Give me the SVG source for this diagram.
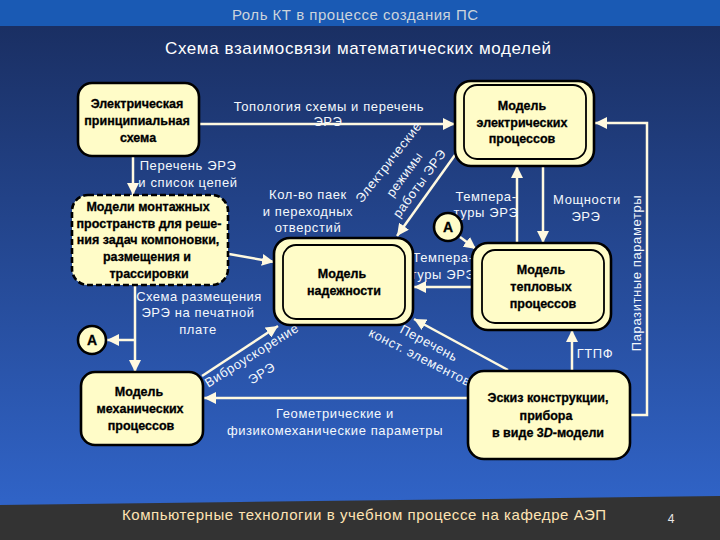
<svg xmlns="http://www.w3.org/2000/svg" width="720" height="540" viewBox="0 0 720 540">
<style>
text{font-family:"Liberation Sans",Arial,sans-serif}
.l{font-size:13px;fill:#f4f8fc;text-anchor:middle;letter-spacing:.6px}
.n{font-size:12.5px;font-weight:700;fill:#000;text-anchor:middle;stroke:#000;stroke-width:.3}
.box{fill:#fffcc8;stroke:#000;stroke-width:2.6}
.in{fill:none;stroke:#000;stroke-width:1.8}
.c{fill:none;stroke:#fff9e0;stroke-width:2.5}
</style>
<defs>
<linearGradient id="bg" gradientUnits="userSpaceOnUse" x1="0" y1="26" x2="0" y2="500"><stop offset="0" stop-color="#1a2f63"/><stop offset="1" stop-color="#3063c6"/></linearGradient>
<marker id="a" markerUnits="userSpaceOnUse" viewBox="0 0 12 12" refX="12" refY="6" markerWidth="12" markerHeight="12" orient="auto"><path d="M0 0L12 6L0 12z" fill="#fff9e0"/></marker>
</defs>
<rect width="720" height="540" fill="url(#bg)"/>
<rect width="720" height="26" fill="#1a5ab4"/>
<path d="M0 505L80 504L240 502L400 500L560 498L720 496V540H0z" fill="#333"/>
<text x="355" y="20" text-anchor="middle" font-size="15" fill="#ccd4dc" textLength="246">Роль КТ в процессе создания ПС</text>
<text x="358" y="54" text-anchor="middle" font-size="17" fill="#fff" textLength="386">Схема взаимосвязи математических моделей</text>
<text x="364" y="520" text-anchor="middle" font-size="15" fill="#ffe4b4" textLength="484">Компьютерные технологии в учебном процессе на кафедре АЭП</text>
<text x="671" y="523" text-anchor="middle" font-size="12" fill="#e8e8e8">4</text>
<g id="connectors">
<path class="c" d="M199 124H455" marker-end="url(#a)"/>
<path class="c" d="M133 156V195" marker-end="url(#a)"/>
<path class="c" d="M229 254L274 262" marker-end="url(#a)"/>
<path class="c" d="M455 155L397 236" marker-end="url(#a)"/>
<path class="c" d="M543 166V243" marker-end="url(#a)"/>
<path class="c" d="M517 243V166" marker-end="url(#a)"/>
<path class="c" d="M460 237L476 249" marker-end="url(#a)"/>
<path class="c" d="M472 287H414" marker-end="url(#a)"/>
<path class="c" d="M630 415H647V123H595" marker-end="url(#a)"/>
<path class="c" d="M572 371V330" marker-end="url(#a)"/>
<path class="c" d="M508 370L414 319" marker-end="url(#a)"/>
<path class="c" d="M468 398H204" marker-end="url(#a)"/>
<path class="c" d="M135 285V372" marker-end="url(#a)"/>
<path class="c" d="M135 340H107" marker-end="url(#a)"/>
<path class="c" d="M202 376L278 326" marker-end="url(#a)"/>
</g>
<g id="labels">
<text class="l" x="329" y="111">Топология схемы и перечень</text><text class="l" x="328" y="126">ЭРЭ</text>
<text class="l" x="188" y="170">Перечень ЭРЭ</text><text class="l" x="188" y="187">и список цепей</text>
<text class="l" x="308" y="199">Кол-во паек</text><text class="l" x="308" y="216">и переходных</text><text class="l" x="308" y="232">отверстий</text>
<text class="l" x="199" y="301" style="letter-spacing:.45px">Схема размещения</text><text class="l" x="198" y="317">ЭРЭ на печатной</text><text class="l" x="198" y="334">плате</text>
<text class="l" x="486" y="201">Темпера-</text><text class="l" x="486" y="217">туры ЭРЭ</text>
<text class="l" x="587" y="204">Мощности</text><text class="l" x="586" y="221">ЭРЭ</text>
<text class="l" x="443" y="262">Темпера-</text><text class="l" x="443" y="279">туры ЭРЭ</text>
<text class="l" x="595" y="358">ГТПФ</text>
<text class="l" x="335" y="418">Геометрические и</text><text class="l" x="335" y="435">физикомеханические параметры</text>
<text class="l" transform="translate(392 165) rotate(-52)">Электрические</text>
<text class="l" transform="translate(408 177) rotate(-54)">режимы</text>
<text class="l" transform="translate(423 186) rotate(-54)">работы ЭРЭ</text>
<text class="l" transform="translate(254 359) rotate(-32)">Виброускорение</text>
<text class="l" transform="translate(264 377) rotate(-32)">ЭРЭ</text>
<text class="l" transform="translate(427 347) rotate(28)">Перечень</text>
<text class="l" transform="translate(418 361) rotate(27)">конст. элементов</text>
<text class="l" transform="translate(641 273) rotate(-90)">Паразитные параметры</text>
</g>
<g id="n-circuit"><rect class="box" x="78" y="83" width="121" height="73" rx="14"/><text class="n" x="137" y="108">Электрическая</text><text class="n" x="137" y="125">принципиальная</text><text class="n" x="138" y="142">схема</text></g>
<g id="n-mount"><rect class="box" x="72" y="195" width="156" height="90" rx="16" stroke-dasharray="6 3"/><text class="n" x="148" y="211">Модели монтажных</text><text class="n" x="149" y="228">пространств для реше-</text><text class="n" x="148" y="244">ния задач компоновки,</text><text class="n" x="147" y="261">размещения и</text><text class="n" x="149" y="278">трассировки</text></g>
<g id="n-reliability"><rect class="box" x="274" y="238" width="139" height="87" rx="16"/><rect class="in" x="283" y="245" width="122" height="74" rx="13"/><text class="n" x="342" y="278">Модель</text><text class="n" x="344" y="295">надежности</text></g>
<g id="n-electric"><rect class="box" x="455" y="81" width="139" height="85" rx="16"/><rect class="in" x="464" y="85" width="122" height="74" rx="13"/><text class="n" x="522" y="110">Модель</text><text class="n" x="522" y="127">электрических</text><text class="n" x="522" y="143">процессов</text></g>
<g id="n-thermal"><rect class="box" x="472" y="243" width="139" height="87" rx="16"/><rect class="in" x="482" y="250" width="122" height="73" rx="13"/><text class="n" x="541" y="274">Модель</text><text class="n" x="541" y="291">тепловых</text><text class="n" x="543" y="308">процессов</text></g>
<g id="n-mech"><rect class="box" x="81" y="372" width="122" height="73" rx="14"/><text class="n" x="139" y="396">Модель</text><text class="n" x="140" y="413">механических</text><text class="n" x="141" y="430">процессов</text></g>
<g id="n-sketch"><rect class="box" x="468" y="371" width="162" height="88" rx="16"/><text class="n" x="548" y="402">Эскиз конструкции,</text><text class="n" x="546" y="420">прибора</text><text class="n" x="548" y="437">в виде 3<tspan font-style="italic">D</tspan>-модели</text></g>
<g id="n-a1"><circle cx="448" cy="227" r="14" fill="#fffcc8" stroke="#000" stroke-width="2.6"/><text class="n" x="448" y="232" style="font-size:14px">А</text></g>
<g id="n-a2"><circle cx="92" cy="340" r="14" fill="#fffcc8" stroke="#000" stroke-width="2.6"/><text class="n" x="92" y="345" style="font-size:14px">А</text></g>
</svg>
